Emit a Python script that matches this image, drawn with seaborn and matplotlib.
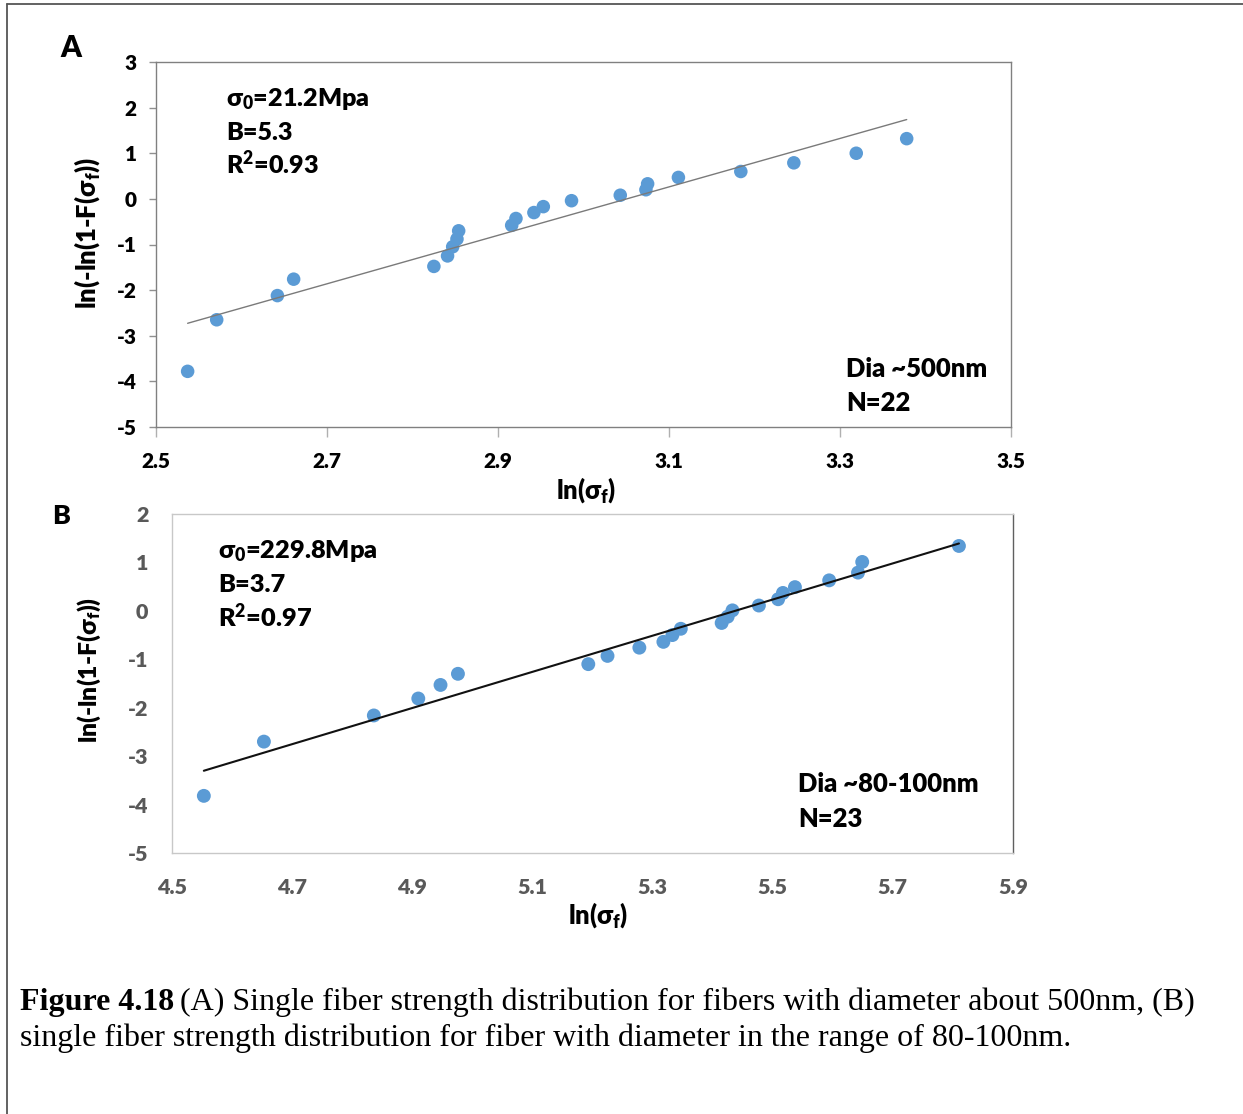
import matplotlib
matplotlib.use("Agg")
import matplotlib.pyplot as plt
from matplotlib.lines import Line2D
from matplotlib import font_manager as fm
import seaborn as sns
import numpy as np
import pandas as pd

W, H = 1243, 1114

# Panel A: fibers of ~500 nm diameter (Weibull plot)
ln_sigma_a = [2.537, 2.571, 2.642, 2.661, 2.825, 2.841, 2.847, 2.852, 2.854,
              2.916, 2.921, 2.942, 2.953, 2.986, 3.043, 3.073, 3.075, 3.111,
              3.184, 3.246, 3.319, 3.378]
weibull_a = [-3.78, -2.65, -2.12, -1.76, -1.48, -1.25, -1.05, -0.88, -0.70,
             -0.58, -0.43, -0.30, -0.17, -0.04, 0.08, 0.20, 0.33, 0.47,
             0.60, 0.79, 1.00, 1.32]

# Panel B: fibers of ~80-100 nm diameter
ln_sigma_b = [4.553, 4.653, 4.836, 4.910, 4.947, 4.976, 5.193, 5.225, 5.278,
              5.318, 5.333, 5.347, 5.415, 5.425, 5.433, 5.477, 5.509, 5.517,
              5.537, 5.594, 5.642, 5.649, 5.810]
weibull_b = [-3.82, -2.70, -2.16, -1.81, -1.53, -1.30, -1.10, -0.93, -0.76,
             -0.64, -0.50, -0.37, -0.25, -0.12, 0.01, 0.11, 0.24, 0.37,
             0.49, 0.63, 0.79, 1.01, 1.34]

xticks_a = [2.5, 2.7, 2.9, 3.1, 3.3, 3.5]
yticks_a = [3, 2, 1, 0, -1, -2, -3, -4, -5]
xticks_b = [4.5, 4.7, 4.9, 5.1, 5.3, 5.5, 5.7, 5.9]
yticks_b = [2, 1, 0, -1, -2, -3, -4, -5]

fit_text_a = ["σ$_0$=21.2Mpa", "B=5.3", "R$^2$=0.93"]
fit_text_b = ["σ$_0$=229.8Mpa", "B=3.7", "R$^2$=0.97"]
sample_text_a = ["Dia ~500nm", "N=22"]
sample_text_b = ["Dia ~80-100nm", "N=23"]
caption_bold = "Figure 4.18"
caption_1 = "(A) Single fiber strength distribution for fibers with diameter about 500nm, (B)"
caption_2 = "single fiber strength distribution for fiber with diameter in the range of 80-100nm."

BLUE = "#5B9BD5"


def has_bold(family):
    for f in fm.fontManager.ttflist:
        if f.name != family:
            continue
        w = f.weight
        if isinstance(w, str):
            w = fm.weight_dict.get(w, 400)
        if w >= 700:
            return True
    return False


SANS = next((f for f in ["Lato", "Open Sans", "Noto Sans", "Roboto",
                         "Liberation Sans"] if has_bold(f)), "DejaVu Sans")
HEAVY = "heavy"

sns.set_theme(style="white")
plt.rcParams["font.family"] = [SANS, "DejaVu Sans"]
plt.rcParams["mathtext.fontset"] = "custom"
plt.rcParams["mathtext.rm"] = f"{SANS}:heavy"
plt.rcParams["mathtext.bf"] = f"{SANS}:heavy"
plt.rcParams["mathtext.it"] = f"{SANS}:heavy"

fig = plt.figure(figsize=(W / 100, H / 100), dpi=100)
fig.patch.set_facecolor("white")
renderer = fig.canvas.get_renderer()


def fx(x):
    return x / W


def fy(y):
    return 1 - y / H


def box(l, t, r, b):
    return [fx(l), fy(b), (r - l) / W, (b - t) / H]


def extent(t):
    return t.get_window_extent(renderer)


def fit_size(texts, ref, target, vertical=False):
    """Scale a group of texts so that `ref` spans `target` pixels."""
    e = extent(ref)
    cur = e.height if vertical else e.width
    size = ref.get_fontsize() * target / cur
    for t in texts:
        t.set_fontsize(size)
    return size


# page frame
fig.add_artist(Line2D([fx(7), fx(1243)], [fy(4), fy(4)], color="#555555", lw=1.3))
fig.add_artist(Line2D([fx(7), fx(7)], [fy(4), fy(1114)], color="#555555", lw=1.3))

axA = fig.add_axes(box(156, 62, 1011, 427))
axB = fig.add_axes(box(172, 514, 1013, 853))

dfA = pd.DataFrame({"ln_sigma": ln_sigma_a, "weibull": weibull_a})
dfB = pd.DataFrame({"ln_sigma": ln_sigma_b, "weibull": weibull_b})

sns.regplot(data=dfA, x="ln_sigma", y="weibull", ax=axA, ci=None,
            scatter_kws=dict(s=95, color=BLUE, edgecolor="none", alpha=1),
            line_kws=dict(color="#7a7a7a", lw=1.0))
sns.regplot(data=dfB, x="ln_sigma", y="weibull", ax=axB, ci=None,
            scatter_kws=dict(s=100, color=BLUE, edgecolor="none", alpha=1),
            line_kws=dict(color="#111111", lw=1.5))

for ax in (axA, axB):
    ax.set_xlabel("")
    ax.set_ylabel("")
    ax.set_facecolor("white")

# Panel A axes
axA.set_xlim(2.5, 3.5)
axA.set_ylim(-5, 3)
axA.set_xticks(xticks_a)
axA.set_xticklabels([f"{v:.1f}" for v in xticks_a])
axA.set_yticks(yticks_a)
axA.set_yticklabels([str(v) for v in yticks_a])
axA.tick_params(axis="x", bottom=True, direction="out", length=7, width=1,
                color="#b0b0b0", pad=11, labelsize=13, labelcolor="black")
axA.tick_params(axis="y", left=True, direction="out", length=5, width=1,
                color="#909090", pad=9, labelsize=13, labelcolor="black")
for s in axA.spines.values():
    s.set_color("#808080")
    s.set_linewidth(1.0)

# Panel B axes
axB.set_xlim(4.5, 5.9)
axB.set_ylim(-5, 2)
axB.set_xticks(xticks_b)
axB.set_xticklabels([f"{v:.1f}" for v in xticks_b])
axB.set_yticks(yticks_b)
axB.set_yticklabels([str(v) for v in yticks_b])
axB.tick_params(axis="x", bottom=False, length=0, pad=18, labelsize=13,
                labelcolor="#595959")
axB.tick_params(axis="y", left=False, length=0, pad=17, labelsize=13,
                labelcolor="#595959")
for name, s in axB.spines.items():
    s.set_color("#606060" if name == "right" else "#c8c8c8")
    s.set_linewidth(1.0)

for ax in (axA, axB):
    for lab in ax.get_xticklabels() + ax.get_yticklabels():
        lab.set_fontweight(HEAVY)

# size tick labels so "2.5" / "4.5" are ~29 px wide
fig.canvas.draw()
for ax, target in ((axA, 29), (axB, 30)):
    lab0 = ax.get_xticklabels()[0]
    size = lab0.get_fontsize() * target / extent(lab0).width
    ax.tick_params(labelsize=size)

ylab = "ln(-ln(1-F(σ$_\\mathrm{f}$))"
xlab = "ln(σ$_\\mathrm{f}$)"

yA = fig.text(fx(87), fy(233), ylab, rotation=90, ha="center", va="center",
              fontsize=14, fontweight=HEAVY, color="black")
yB = fig.text(fx(89), fy(670), ylab, rotation=90, ha="center", va="center",
              fontsize=14, fontweight=HEAVY, color="black")
xA = fig.text(fx(586), fy(490), xlab, ha="center", va="center",
              fontsize=14, fontweight=HEAVY, color="black")
xB = fig.text(fx(598), fy(915), xlab, ha="center", va="center",
              fontsize=14, fontweight=HEAVY, color="black")
fit_size([yA], yA, 153, vertical=True)
fit_size([yB], yB, 147, vertical=True)
fit_size([xA], xA, 61)
fit_size([xB], xB, 61)

# panel letters
pA = fig.text(fx(71), fy(48), "A", ha="center", va="center", fontsize=19,
              fontweight=HEAVY, color="black")
pB = fig.text(fx(61), fy(516), "B", ha="center", va="center", fontsize=18,
              fontweight=HEAVY, color="black")
fit_size([pA], pA, 21)
fit_size([pB], pB, 18)


def text_block(x, y0, dy, lines, target_width):
    ts = [fig.text(fx(x), fy(y0 + dy * i), t, ha="left", va="baseline",
                   fontsize=16, fontweight=HEAVY, color="black")
          for i, t in enumerate(lines)]
    fit_size(ts, ts[0], target_width)
    return ts


# fit statistics and sample information
text_block(226, 106, 34, fit_text_a, 144)
text_block(846, 377, 34, sample_text_a, 142)
text_block(218, 558, 34.5, fit_text_b, 160)
text_block(798, 792, 35, sample_text_b, 181)

# caption
cap_font = dict(family="Liberation Serif", fontsize=20.5, color="black",
                va="baseline", ha="left")
t1 = fig.text(fx(20), fy(1010), caption_bold, fontweight="bold", **cap_font)
t2 = fig.text(fx(200), fy(1010), caption_1, **cap_font)
t3 = fig.text(fx(20), fy(1046), caption_2, **cap_font)


def place_caption():
    t2.set_x((extent(t1).x1 + 0.27 * t1.get_fontsize()) / W)


place_caption()
total = extent(t2).x1 - extent(t1).x0
size = t1.get_fontsize() * (1195 - 20) / total
for t in (t1, t2, t3):
    t.set_fontsize(size)
place_caption()

fig.savefig("out.png", dpi=100, facecolor="white")
